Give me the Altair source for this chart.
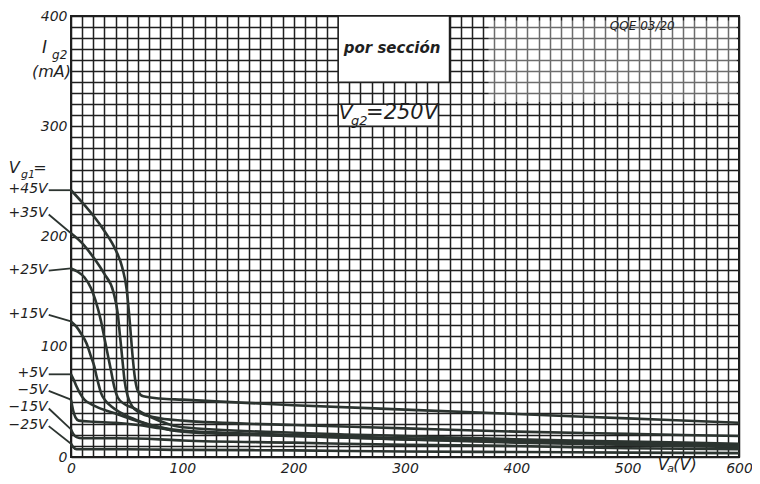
import altair as alt
import pandas as pd

FONT = "DejaVu Sans"
INK = "#1f1f1f"
CURVE = "#2c3430"

# ---- data: Ig2 (mA) versus Va (V) for each Vg1 ----
curve_names = ["+45V", "+35V", "+25V", "+15V", "+5V", "\u22125V", "\u221215V", "\u221225V"]

va_p45 = [0, 10, 20, 30, 40, 46, 50, 53, 55, 57, 60, 65, 80, 100, 200, 300, 400, 500, 600]
ig_p45 = [242, 231, 219, 205, 188, 172, 152, 120, 95, 75, 60, 55, 53, 52, 47, 43, 39, 35, 31]

va_p35 = [0, 10, 18, 30, 38, 42, 44, 46, 48, 51, 55, 62, 75, 100, 200, 300, 400, 500, 600]
ig_p35 = [203, 194, 184, 166, 150, 130, 110, 90, 70, 55, 46, 40, 36, 33, 29, 26, 23, 21, 19]

va_p25 = [0, 6, 12, 18, 22, 27, 30, 33, 36, 39, 42, 48, 57, 70, 100, 200, 300, 400, 500, 600]
ig_p25 = [171, 168, 163, 153, 142, 123, 108, 93, 78, 63, 54, 48, 44, 37, 27, 22, 19, 16, 14, 12]

va_p15 = [0, 5, 9, 14, 18, 21, 23, 25, 27, 31, 36, 45, 60, 80, 100, 200, 300, 400, 500, 600]
ig_p15 = [123, 118, 112, 103, 91, 82, 73, 65, 58, 51, 46, 40, 33, 27, 24, 20, 17, 15, 13, 11]

va_p5 = [0, 2, 5, 8, 12, 18, 24, 32, 41, 55, 68, 80, 92, 150, 200, 300, 400, 500, 600]
ig_p5 = [75, 71, 64, 58, 52, 48, 45, 42, 39, 34, 30, 27, 24, 21, 19, 16, 14, 12, 10]

va_m5 = [0, 2, 4, 7, 20, 40, 60, 80, 100, 200, 300, 400, 500, 600]
ig_m5 = [52, 42, 36, 33, 32, 31, 29, 26, 23, 19, 16, 13, 11, 9]

va_m15 = [0, 2, 5, 10, 40, 80, 100, 200, 300, 400, 500, 600]
ig_m15 = [25, 21, 18, 17, 17, 16, 15, 13, 11, 10, 8, 7]

va_m25 = [0, 2, 5, 10, 50, 100, 200, 300, 400, 500, 600]
ig_m25 = [12, 9, 7, 7, 7, 6.5, 6, 5, 4.5, 4, 3.5]

all_va = [va_p45, va_p35, va_p25, va_p15, va_p5, va_m5, va_m15, va_m25]
all_ig = [ig_p45, ig_p35, ig_p25, ig_p15, ig_p5, ig_m5, ig_m15, ig_m25]

# label heights (mA) of the Vg1 annotations at the left of the axis
label_ig = [243, 221, 170, 130, 76, 61, 45, 29]

x_ticks = list(range(0, 601, 10))
y_ticks = list(range(0, 401, 10))

rows = []
for name, va, ig in zip(curve_names, all_va, all_ig):
    for a, b in zip(va, ig):
        rows.append({"curve": name, "va": a, "ig": b})
curves_df = pd.DataFrame(rows)

leader_df = pd.DataFrame({
    "curve": curve_names,
    "x": [-20] * len(curve_names),
    "y": [v - 1 for v in label_ig],
    "x2": [0] * len(curve_names),
    "y2": [ig[0] for ig in all_ig],
    "tx": [-21] * len(curve_names),
    "ty": label_ig,
})

xs = alt.Scale(domain=[0, 600], nice=False, zero=False)
ys = alt.Scale(domain=[0, 400], nice=False, zero=False)

x_axis = alt.Axis(values=x_ticks, grid=True, gridColor=INK, gridWidth=1.5, gridOpacity=1,
                  ticks=False, domain=False, title=None,
                  labelExpr="datum.value % 100 == 0 ? datum.label : ''",
                  labelFont=FONT, labelFontStyle="italic", labelFontSize=14,
                  labelColor=INK, labelPadding=4, labelOverlap=False, labelFlush=False)
y_axis = alt.Axis(values=y_ticks, grid=True, gridColor=INK, gridWidth=1.5, gridOpacity=1,
                  ticks=False, domain=False, title=None,
                  labelExpr="datum.value % 100 == 0 ? datum.label : ''",
                  labelFont=FONT, labelFontStyle="italic", labelFontSize=14,
                  labelColor=INK, labelPadding=4, labelOverlap=False, labelFlush=False)


def X(field):
    return alt.X(field, scale=xs, axis=x_axis)


def Y(field):
    return alt.Y(field, scale=ys, axis=y_axis)


curves = alt.Chart(curves_df).mark_line(interpolate="monotone", strokeWidth=2.6, color=CURVE).encode(
    x=X("va:Q"),
    y=Y("ig:Q"),
    detail="curve:N",
    order="va:Q",
)

leaders = alt.Chart(leader_df).mark_rule(clip=False, strokeWidth=1.8, color=CURVE).encode(
    x=X("x:Q"), y=Y("y:Q"), x2="x2:Q", y2="y2:Q",
)

labels = alt.Chart(leader_df).mark_text(align="right", baseline="middle", font=FONT,
                                        fontStyle="italic", fontSize=14, color=INK).encode(
    x=X("tx:Q"), y=Y("ty:Q"), text="curve:N",
)

# boxes covering the grid
box_df = pd.DataFrame({"x": [240, 240], "x2": [340, 330], "y": [340, 300], "y2": [400, 320]})
boxes = alt.Chart(box_df).mark_rect(fill="white", stroke=INK, strokeWidth=1.5).encode(
    x=X("x:Q"), x2="x2:Q", y=Y("y:Q"), y2="y2:Q",
)

fade_df = pd.DataFrame({"x": [375], "x2": [598], "y": [322], "y2": [396]})
fade = alt.Chart(fade_df).mark_rect(fill="white", opacity=0.35).encode(
    x=X("x:Q"), x2="x2:Q", y=Y("y:Q"), y2="y2:Q",
)

# free text annotations
ann_text = ["por secci\u00f3n", "V", "g2", "=250V", "QQE 03/20",
            "I", "g2", "(mA)", "V", "g1", "=", "V", "a", "(V)"]
ann_x = [245, 240.5, 251.5, 265, 484,
         -26, -17, -35, -56, -45, -34, 527, 535.5, 541]
ann_y = [371, 312, 305, 312, 391,
         371, 365, 349, 262, 256, 262, -7, -11, -7]
ann_size = [15, 20, 13, 21, 12,
            17, 12, 16, 16, 11, 16, 16, 11, 16]
ann_weight = ["bold", "normal", "normal", "normal", "normal",
              "normal", "normal", "normal", "normal", "normal", "normal", "normal", "normal", "normal"]
ann_df = pd.DataFrame({"t": ann_text, "x": ann_x, "y": ann_y, "s": ann_size, "w": ann_weight})

ann_layers = []
for i in range(len(ann_df)):
    ann_layers.append(
        alt.Chart(ann_df.iloc[[i]]).mark_text(
            align="left", baseline="middle", font=FONT, fontStyle="italic",
            fontSize=int(ann_df["s"].iloc[i]), fontWeight=ann_df["w"].iloc[i], color=INK,
        ).encode(x=X("x:Q"), y=Y("y:Q"), text="t:N")
    )

chart = alt.layer(curves, fade, boxes, leaders, labels, *ann_layers).properties(
    width=668, height=441,
    autosize=alt.AutoSizeParams(type="none"),
    padding={"left": 63, "top": 8, "right": 13, "bottom": 19},
    background="white",
).configure_view(stroke=INK, strokeWidth=2)

chart.save("out.html", embed_options={"renderer": "svg", "actions": False})
